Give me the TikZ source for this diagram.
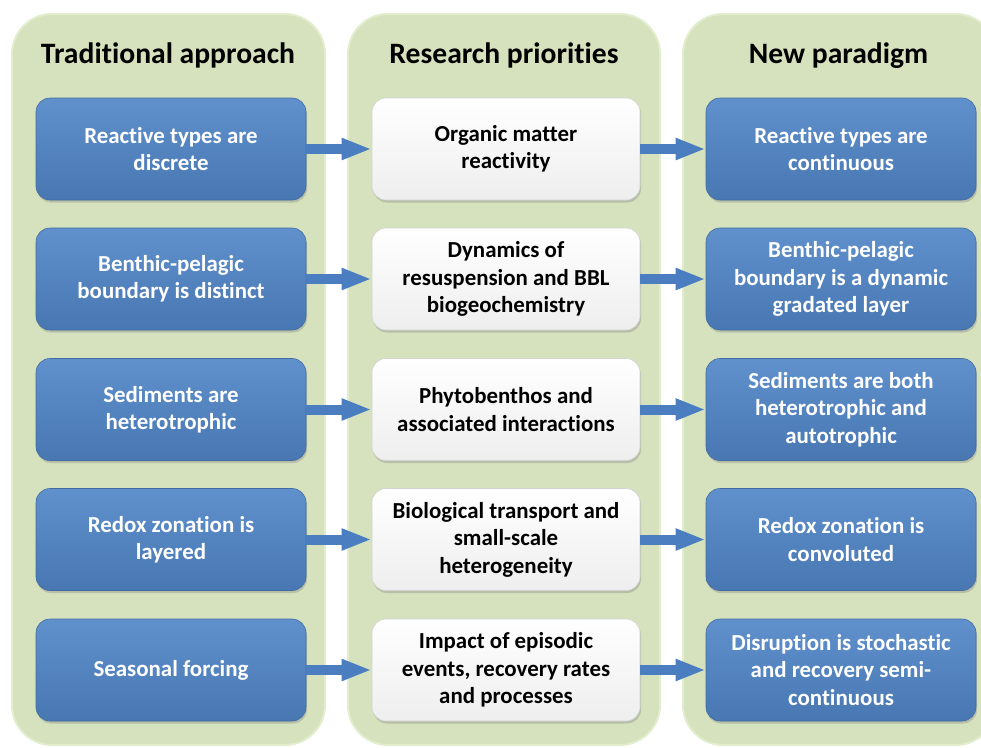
\documentclass[tikz,border=0pt]{standalone}
\usepackage{fontspec}
\setmainfont{Carlito}[Ligatures=NoCommon]
\usetikzlibrary{arrows.meta,shadows}
\definecolor{panelgreen}{RGB}{213,226,189}
\definecolor{paneledge}{RGB}{226,237,206}
\definecolor{boxbluetop}{RGB}{96,145,204}
\definecolor{boxbluebot}{RGB}{72,119,178}
\definecolor{boxblueedge}{RGB}{66,108,163}
\definecolor{arrowblue}{RGB}{74,126,192}
\definecolor{whitebot}{RGB}{238,238,238}
\begin{document}
\begin{tikzpicture}[x=1pt,y=-1pt,
  panel/.style={fill=panelgreen, draw=paneledge, line width=2pt, rounded corners=40pt},
  heading/.style={font=\fontsize{29.6}{35}\selectfont\bfseries, anchor=base, inner sep=0pt},
  boxbase/.style={rounded corners=14pt, minimum height=102pt, inner sep=0pt, align=center,
    font=\fontsize{22.9}{27.4}\selectfont\bfseries,
    drop shadow={shadow xshift=1pt, shadow yshift=-2.5pt, opacity=0.35}},
  bluebox/.style={boxbase, minimum width=270pt, text=white,
    top color=boxbluetop, bottom color=boxbluebot, draw=boxblueedge, line width=0.6pt},
  whitebox/.style={boxbase, minimum width=268pt, text=black,
    top color=white, bottom color=whitebot, draw=gray!35, line width=0.6pt},
  flow/.style={-{Triangle[length=30pt,width=20pt]}, line width=10pt, draw=arrowblue}]
\path[use as bounding box] (0,0) rectangle (981,747);
\clip (0,0) rectangle (981,747);
% panels
\draw[panel] (12,14) rectangle (325,745);
\draw[panel] (348,14) rectangle (660,745);
\draw[panel] (683,14) rectangle (996,745);
% headings
\node[heading] (h1) at (168,63) {Traditional approach};
\node[heading] (h2) at (504,63) {Research priorities};
\node[heading] (h3) at (838.5,63) {New paradigm};
% left column
\node[bluebox] (l1) at (171,149) {Reactive types are\\discrete};
\node[bluebox] (l2) at (171,279) {Benthic-pelagic\\boundary is distinct};
\node[bluebox] (l3) at (171,409.5) {Sediments are\\heterotrophic};
\node[bluebox] (l4) at (171,539.5) {Redox zonation is\\layered};
\node[bluebox] (l5) at (171,670) {Seasonal forcing};
% middle column
\node[whitebox] (m1) at (506,149) {Organic matter\\reactivity};
\node[whitebox] (m2) at (506,279) {Dynamics of\\resuspension and BBL\\biogeochemistry};
\node[whitebox] (m3) at (506,409.5) {Phytobenthos and\\associated interactions};
\node[whitebox] (m4) at (506,539.5) {Biological transport and\\small-scale\\heterogeneity};
\node[whitebox] (m5) at (506,670) {Impact of episodic\\events, recovery rates\\and processes};
% right column
\node[bluebox] (r1) at (841,149) {Reactive types are\\continuous};
\node[bluebox] (r2) at (841,279) {Benthic-pelagic\\boundary is a dynamic\\gradated layer};
\node[bluebox] (r3) at (841,409.5) {Sediments are both\\heterotrophic and\\autotrophic};
\node[bluebox] (r4) at (841,539.5) {Redox zonation is\\convoluted};
\node[bluebox] (r5) at (841,670) {Disruption is stochastic\\and recovery semi-\\continuous};
% arrows
\foreach \i in {1,...,5}{
  \draw[flow] (l\i.east) -- (m\i.west);
  \draw[flow] (m\i.east) -- (r\i.west);
}
\end{tikzpicture}
\end{document}
